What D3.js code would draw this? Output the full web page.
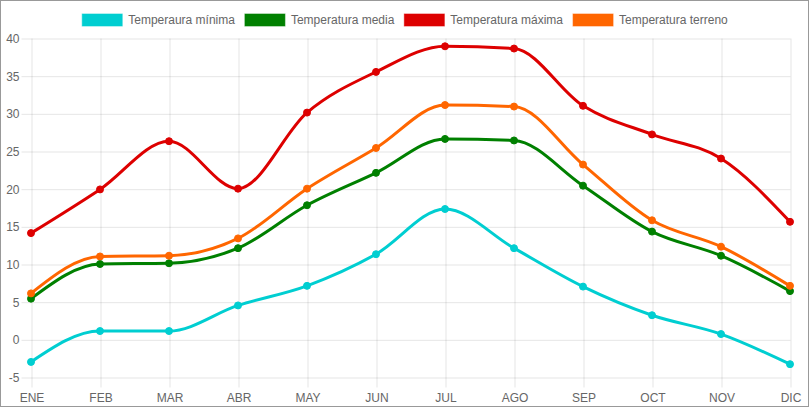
<!DOCTYPE html>
<html>
<head>
<meta charset="utf-8">
<script src="https://cdn.jsdelivr.net/npm/d3@7"></script>
<style>
  html, body { margin: 0; padding: 0; background: #fff; }
  svg { display: block; font-family: "Liberation Sans", Arial, Helvetica, sans-serif; }
</style>
</head>
<body>
<svg id="chart" width="810" height="410"></svg>
<script>
const months = ["ENE","FEB","MAR","ABR","MAY","JUN","JUL","AGO","SEP","OCT","NOV","DIC"];
const tempMin    = [-3.0, 1.1, 1.1, 4.5, 7.1, 11.3, 17.3, 12.1, 7.0, 3.2, 0.7, -3.3];
const tempMedia  = [5.4, 10.0, 10.1, 12.1, 17.8, 22.1, 26.6, 26.4, 20.4, 14.3, 11.1, 6.4];
const tempMax    = [14.1, 19.9, 26.3, 20.0, 30.1, 35.5, 38.9, 38.6, 31.0, 27.2, 24.0, 15.6];
const tempTerreno= [6.1, 11.0, 11.1, 13.4, 20.0, 25.4, 31.1, 30.9, 23.2, 15.8, 12.3, 7.1];
const seriesNames = ["Temperaura mínima","Temperatura media","Temperatura máxima","Temperatura terreno"];
const seriesColors = ["#00CED1","#008000","#DD0000","#FF6600"];
const yTicks = [-5,0,5,10,15,20,25,30,35,40];

(function(){
const series = [tempMin, tempMedia, tempMax, tempTerreno].map((v,i)=>({name:seriesNames[i], color:seriesColors[i], values:v}));

const svg = d3.select("#chart");
const W = 810;
const pl = 31, pr = 790, pt = 38, pb = 377;

const x = d3.scalePoint().domain(months).range([pl, pr]);
const y = d3.scaleLinear().domain([-5, 40]).range([pb, pt]);

svg.append("rect").attr("x",0.5).attr("y",0.5).attr("width",808).attr("height",406)
  .attr("fill","#fff").attr("stroke","#999").attr("stroke-width",1);

const gridColor = "rgba(0,0,0,0.1)";
const yAxis = d3.axisLeft(y).tickValues(yTicks).tickSize(10).tickPadding(2).tickFormat(d=>String(d));
const gy = svg.append("g").attr("transform",`translate(${pl+0.5},0.5)`).call(yAxis);
gy.select(".domain").remove();
gy.selectAll(".tick line").attr("stroke",gridColor).attr("x1",-10).attr("x2",pr-pl);
gy.selectAll(".tick text").attr("fill","#666").attr("font-size",12)
  .attr("font-family","'Liberation Sans', Arial, sans-serif");

const xAxis = d3.axisBottom(x).tickSize(10).tickPadding(6);
const gx = svg.append("g").attr("transform",`translate(0.5,${pb+0.5})`).call(xAxis);
gx.select(".domain").remove();
gx.selectAll(".tick line").attr("stroke",gridColor).attr("y1",-(pb-pt)).attr("y2",10);
gx.selectAll(".tick text").attr("fill","#666").attr("font-size",12)
  .attr("font-family","'Liberation Sans', Arial, sans-serif");

const line = d3.line()
  .x((d,i)=>x(months[i]))
  .y(d=>y(d))
  .curve(d3.curveMonotoneX);

const gLines = svg.append("g");
series.forEach(s=>{
  gLines.append("path").attr("d", line(s.values))
    .attr("fill","none").attr("stroke",s.color).attr("stroke-width",3)
    .attr("stroke-linejoin","round");
});
series.forEach(s=>{
  gLines.selectAll(null).data(s.values).enter().append("circle")
    .attr("cx",(d,i)=>x(months[i])).attr("cy",d=>y(d)).attr("r",3.5)
    .attr("fill",s.color).attr("stroke",s.color).attr("stroke-width",1);
});

const legend = svg.append("g");
const boxW = 40, boxH = 12, fs = 12, gap = 10;
const items = series.map(s=>{
  const g = legend.append("g");
  g.append("rect").attr("width",boxW).attr("height",boxH).attr("fill",s.color)
    .attr("stroke",s.color).attr("stroke-opacity",0.6);
  const txt = g.append("text").attr("x",boxW+fs/2).attr("y",boxH/2).attr("dy","0.35em")
    .attr("font-size",fs).attr("fill","#666").text(s.name);
  const w = boxW + fs/2 + txt.node().getComputedTextLength();
  return {g, w};
});
const total = d3.sum(items, d=>d.w) + gap*(items.length-1);
let cx = (W - total)/2;
items.forEach(it=>{
  it.g.attr("transform",`translate(${cx},14)`);
  cx += it.w + gap;
});
})();
</script>
</body>
</html>
